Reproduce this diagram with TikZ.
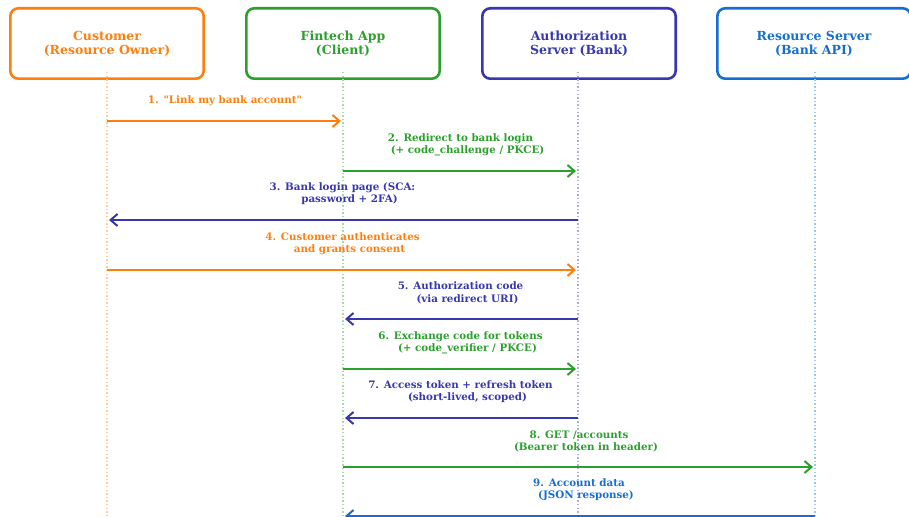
\documentclass[tikz,border=0pt]{standalone}
\usepackage{fontspec}
\setmainfont{DejaVu Serif}
\usetikzlibrary{arrows.meta,calc}
\definecolor{corange}{RGB}{255,127,14}
\definecolor{cgreen}{RGB}{44,160,44}
\definecolor{cpurple}{RGB}{55,55,175}
\definecolor{cblue}{RGB}{20,110,210}
\begin{document}
\begin{tikzpicture}[x=1pt,y=-1pt,
  actor/.style={draw, line width=2.6pt, rounded corners=8pt, minimum width=193.4pt, minimum height=70.4pt, align=center, font=\fontsize{12.5}{14}\selectfont\bfseries, inner sep=0pt},
  msg/.style={line width=2.2pt, -{Straight Barb[length=7pt,width=12pt,line width=2pt]}, shorten >=2pt},
  lbl/.style={font=\fontsize{10.3}{12.2}\selectfont\bfseries, align=center, inner sep=0pt, anchor=south},
  life/.style={line width=1.1pt, dash pattern=on 1.4pt off 2.2pt}
]
\useasboundingbox (0,0) rectangle (909,516);
\clip (0,0) rectangle (909,516);

% actors
\node[actor, corange] (cust) at (107,43.5) {Customer\\(Resource Owner)};
\node[actor, cgreen] (fin) at (343,43.5) {Fintech App\\(Client)};
\node[actor, cpurple] (auth) at (579,43.5) {Authorization\\Server (Bank)};
\node[actor, cblue] (res) at (814,43.5) {Resource Server\\(Bank API)};

% lifelines
\coordinate (cT) at (107,72); \coordinate (cB) at (107,530);
\coordinate (fT) at (343,72); \coordinate (fB) at (343,530);
\coordinate (aT) at (578,72); \coordinate (aB) at (578,530);
\coordinate (rT) at (815,72); \coordinate (rB) at (815,530);
\draw[life, corange!40] (cT) -- (cB);
\draw[life, cgreen!40] (fT) -- (fB);
\draw[life, cpurple!40] (aT) -- (aB);
\draw[life, cblue!40] (rT) -- (rB);

% message points
\coordinate (c1) at (107,121); \coordinate (f1) at (343,121);
\coordinate (f2) at (343,171); \coordinate (a2) at (578,171);
\coordinate (a3) at (578,220); \coordinate (c3) at (107,220);
\coordinate (c4) at (107,270); \coordinate (a4) at (578,270);
\coordinate (a5) at (578,319); \coordinate (f5) at (343,319);
\coordinate (f6) at (343,369); \coordinate (a6) at (578,369);
\coordinate (a7) at (578,418); \coordinate (f7) at (343,418);
\coordinate (f8) at (343,467); \coordinate (r8) at (815,467);
\coordinate (r9) at (815,516); \coordinate (f9) at (343,516);

\draw[msg, corange] (c1) -- (f1);
\node[lbl, corange] (l1) at ($(c1)!0.5!(f1)+(0,-15)$) {1. \textquotedbl Link my bank account\textquotedbl};

\draw[msg, cgreen] (f2) -- (a2);
\node[lbl, cgreen] (l2) at ($(f2)!0.5!(a2)+(0,-15)$) {2. Redirect to bank login\\\hspace*{14pt}(+ code\_challenge / PKCE)};

\draw[msg, cpurple] (a3) -- (c3);
\node[lbl, cpurple] (l3) at ($(a3)!0.5!(c3)+(0,-15)$) {3. Bank login page (SCA:\\\hspace*{14pt}password + 2FA)};

\draw[msg, corange] (c4) -- (a4);
\node[lbl, corange] (l4) at ($(c4)!0.5!(a4)+(0,-15)$) {4. Customer authenticates\\\hspace*{14pt}and grants consent};

\draw[msg, cpurple] (a5) -- (f5);
\node[lbl, cpurple] (l5) at ($(a5)!0.5!(f5)+(0,-15)$) {5. Authorization code\\\hspace*{14pt}(via redirect URI)};

\draw[msg, cgreen] (f6) -- (a6);
\node[lbl, cgreen] (l6) at ($(f6)!0.5!(a6)+(0,-15)$) {6. Exchange code for tokens\\\hspace*{14pt}(+ code\_verifier / PKCE)};

\draw[msg, cpurple] (a7) -- (f7);
\node[lbl, cpurple] (l7) at ($(a7)!0.5!(f7)+(0,-15)$) {7. Access token + refresh token\\\hspace*{14pt}(short-lived, scoped)};

\draw[msg, cgreen] (f8) -- (r8);
\node[lbl, cgreen] (l8) at ($(f8)!0.5!(r8)+(0,-15)$) {8. GET /accounts\\\hspace*{14pt}(Bearer token in header)};

\draw[msg, cblue] (r9) -- (f9);
\node[lbl, cblue] (l9) at ($(r9)!0.5!(f9)+(0,-15)$) {9. Account data\\\hspace*{14pt}(JSON response)};
\end{tikzpicture}
\end{document}
